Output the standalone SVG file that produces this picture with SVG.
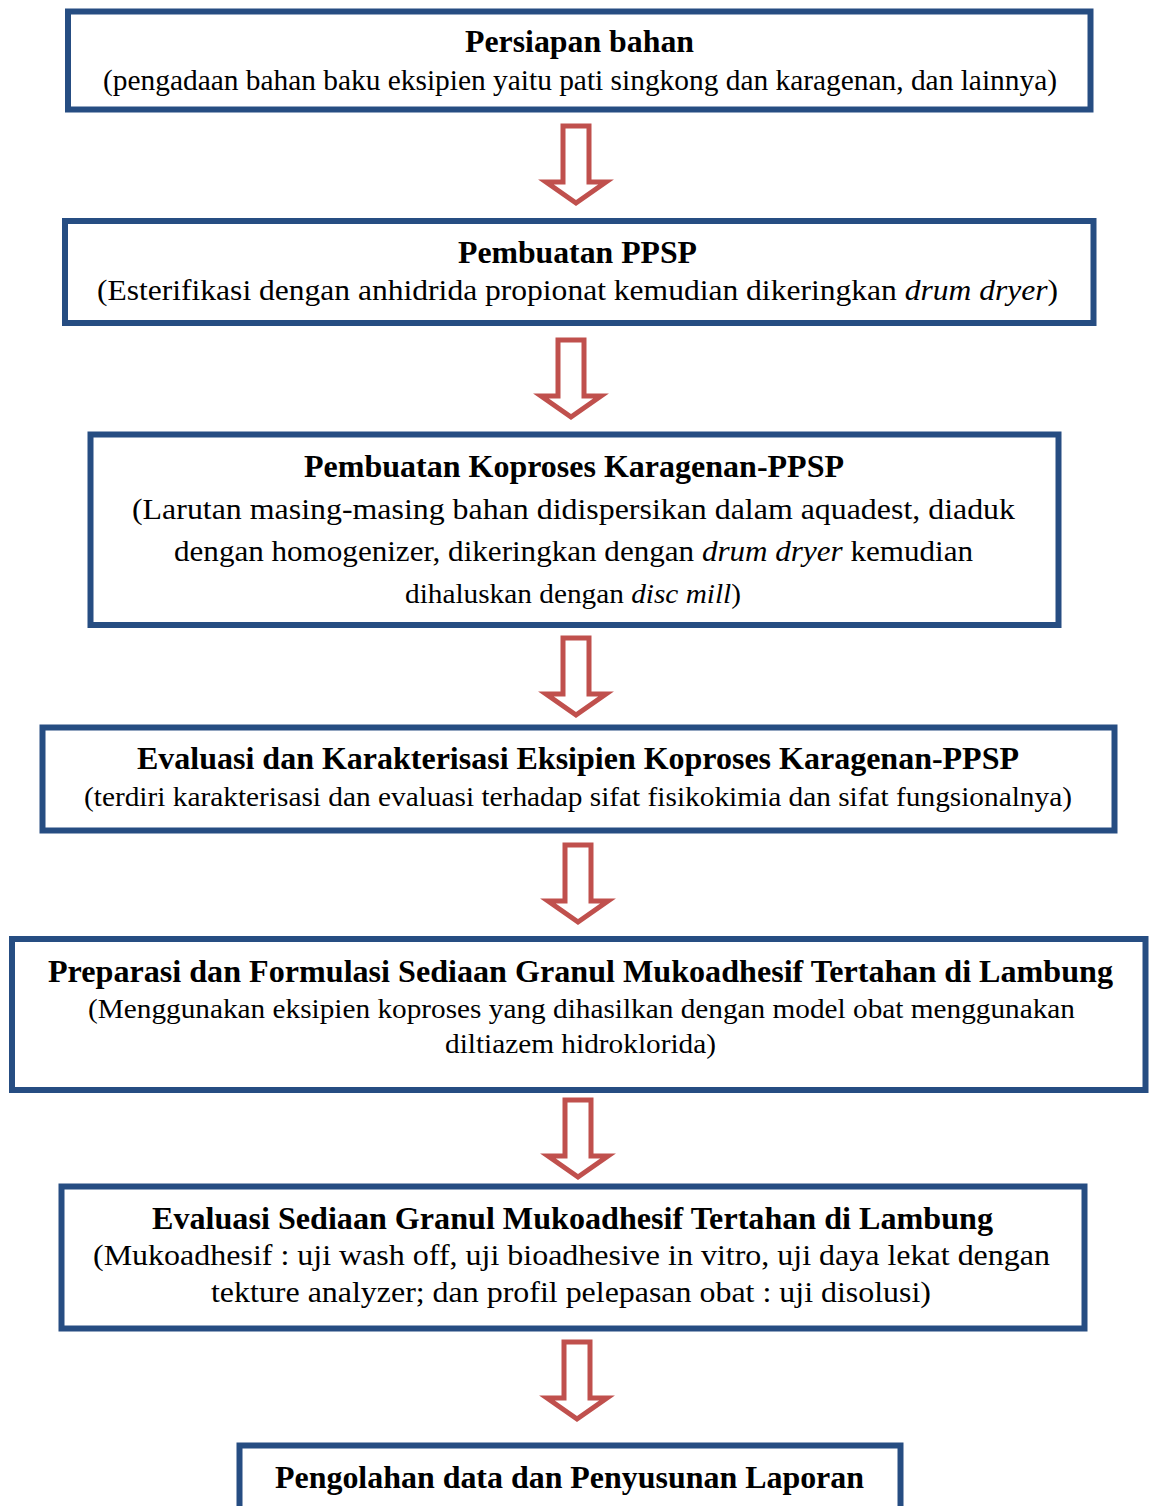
<svg xmlns="http://www.w3.org/2000/svg" width="1149" height="1506" viewBox="0 0 1149 1506">
  <style>
    .box { fill: #ffffff; stroke: #264d82; stroke-width: 6; }
    .arrow { fill: #ffffff; stroke: #c0504d; stroke-width: 5; stroke-linejoin: miter; }
    text { fill: #000000; text-anchor: middle; }
    .t { font-weight: bold; font-size: 32px; }
    .b { font-size: 29px; }
    .s { font-size: 27px; }
    .i { font-style: italic; }
  </style>
  <defs>
    <!-- hollow downward block arrow, tip 77 below its top edge -->
    <path id="down" class="arrow" d="M -13,0 L 13,0 L 13,56 L 30,56 L 0,77 L -30,56 L -13,56 Z"/>
  </defs>

  <rect width="1149" height="1506" fill="#ffffff"/>

  <g id="connectors">
    <use href="#down" x="576" y="126"/>
    <use href="#down" x="571" y="340"/>
    <use href="#down" x="576" y="638"/>
    <use href="#down" x="578" y="845"/>
    <use href="#down" x="578" y="1100"/>
    <use href="#down" x="577" y="1342"/>
  </g>

  <g font-family="Liberation Serif, Times New Roman, serif">
    <g id="persiapan">
      <rect class="box" x="68" y="11.5" width="1022.5" height="98"/>
      <text class="t" x="579.5" y="52" textLength="229" lengthAdjust="spacingAndGlyphs">Persiapan bahan</text>
      <text class="b" x="580" y="90" textLength="954" lengthAdjust="spacingAndGlyphs">(pengadaan bahan baku eksipien yaitu pati singkong dan karagenan, dan lainnya)</text>
    </g>

    <g id="ppsp">
      <rect class="box" x="65" y="221" width="1028.5" height="102"/>
      <text class="t" x="577.5" y="263" textLength="239" lengthAdjust="spacingAndGlyphs">Pembuatan PPSP</text>
      <text class="b" x="577.5" y="300" textLength="961" lengthAdjust="spacingAndGlyphs">(Esterifikasi dengan anhidrida propionat kemudian dikeringkan <tspan class="i">drum dryer</tspan>)</text>
    </g>

    <g id="koproses">
      <rect class="box" x="90.5" y="434.5" width="968" height="190.5"/>
      <text class="t" x="574" y="477" textLength="540" lengthAdjust="spacingAndGlyphs">Pembuatan Koproses Karagenan-PPSP</text>
      <text class="b" x="573.5" y="519" textLength="883" lengthAdjust="spacingAndGlyphs">(Larutan masing-masing bahan didispersikan dalam aquadest, diaduk</text>
      <text class="b" x="573.5" y="561" textLength="799" lengthAdjust="spacingAndGlyphs">dengan homogenizer, dikeringkan dengan <tspan class="i">drum dryer</tspan> kemudian</text>
      <text class="s" x="573" y="603" textLength="336" lengthAdjust="spacingAndGlyphs">dihaluskan dengan <tspan class="i">disc mill</tspan>)</text>
    </g>

    <g id="evaluasi-eksipien">
      <rect class="box" x="42.5" y="727.5" width="1072" height="103"/>
      <text class="t" x="578" y="769" textLength="882" lengthAdjust="spacingAndGlyphs">Evaluasi dan Karakterisasi Eksipien Koproses Karagenan-PPSP</text>
      <text class="s" x="578" y="806" textLength="988" lengthAdjust="spacingAndGlyphs">(terdiri karakterisasi dan evaluasi terhadap sifat fisikokimia dan sifat fungsionalnya)</text>
    </g>

    <g id="preparasi">
      <rect class="box" x="12" y="939" width="1133.5" height="151"/>
      <text class="t" x="580.5" y="982" textLength="1065" lengthAdjust="spacingAndGlyphs">Preparasi dan Formulasi Sediaan Granul Mukoadhesif Tertahan di Lambung</text>
      <text class="s" x="581.5" y="1018" textLength="987" lengthAdjust="spacingAndGlyphs">(Menggunakan eksipien koproses yang dihasilkan dengan model obat menggunakan</text>
      <text class="s" x="580.5" y="1053" textLength="271" lengthAdjust="spacingAndGlyphs">diltiazem hidroklorida)</text>
    </g>

    <g id="evaluasi-sediaan">
      <rect class="box" x="61.5" y="1186.5" width="1023" height="142"/>
      <text class="t" x="572.5" y="1229" textLength="841" lengthAdjust="spacingAndGlyphs">Evaluasi Sediaan Granul Mukoadhesif Tertahan di Lambung</text>
      <text class="b" x="571.5" y="1265" textLength="957" lengthAdjust="spacingAndGlyphs">(Mukoadhesif : uji wash off, uji bioadhesive in vitro, uji daya lekat dengan</text>
      <text class="b" x="571" y="1302" textLength="720" lengthAdjust="spacingAndGlyphs">tekture analyzer; dan profil pelepasan obat : uji disolusi)</text>
    </g>

    <g id="laporan">
      <rect class="box" x="239.5" y="1445.5" width="661" height="80"/>
      <text class="t" x="569.5" y="1488" textLength="589" lengthAdjust="spacingAndGlyphs">Pengolahan data dan Penyusunan Laporan</text>
    </g>
  </g>
</svg>
